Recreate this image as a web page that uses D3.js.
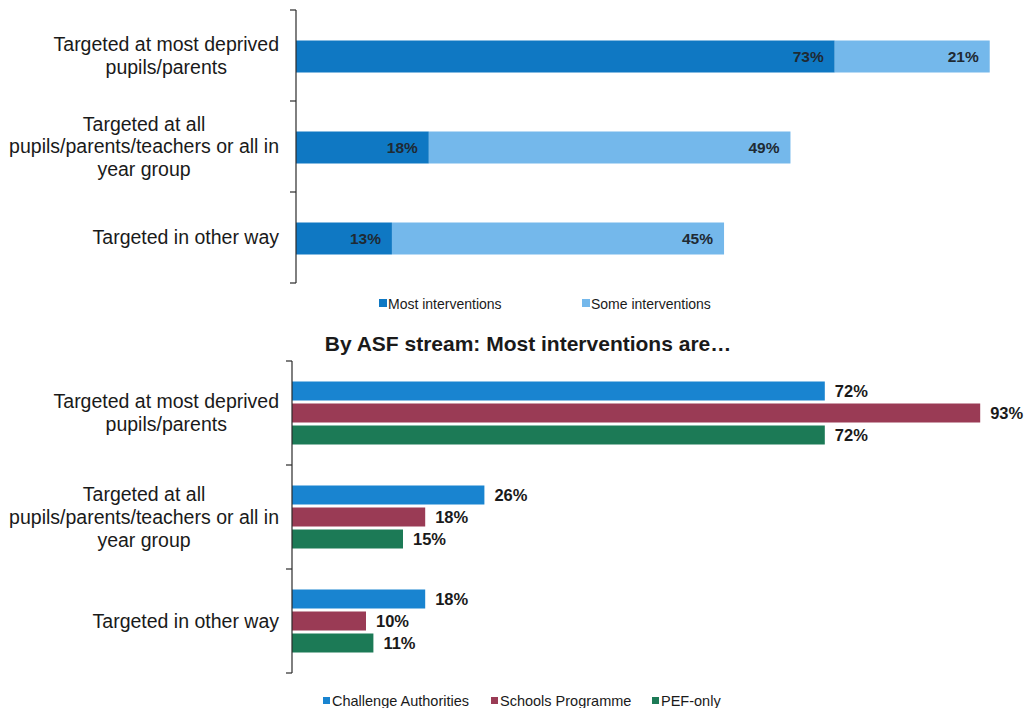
<!DOCTYPE html>
<html>
<head>
<meta charset="utf-8">
<script src="https://cdn.jsdelivr.net/npm/d3@7"></script>
<style>
  html, body { margin: 0; padding: 0; background: #ffffff; }
  svg { display: block; font-family: "Liberation Sans", Arial, sans-serif; }
</style>
</head>
<body>
<svg id="chart" width="1026" height="708"></svg>
<script>
// Category labels, split into display lines
const categories = [
  "Targeted at most deprived pupils/parents",
  "Targeted at all pupils/parents/teachers or all in year group",
  "Targeted in other way"
];
const categoryLines = [
  ["Targeted at most deprived", "pupils/parents"],
  ["Targeted at all", "pupils/parents/teachers or all in", "year group"],
  ["Targeted in other way"]
];

// Upper panel: share of interventions (stacked)
const mostInterventions = [73, 18, 13];
const someInterventions = [21, 49, 45];
const stackKeys = ["Most interventions", "Some interventions"];

// Lower panel: "most interventions are…" by ASF stream
const streams = ["Challenge Authorities", "Schools Programme", "PEF-only"];
const challengeAuthorities = [72, 26, 18];
const schoolsProgramme = [93, 18, 10];
const pefOnly = [72, 15, 11];

const lowerTitle = "By ASF stream: Most interventions are\u2026";

const stackColors = ["#0f78c3", "#74b8eb"];
const streamColors = ["#1984d0", "#9a3b55", "#1c7a56"];

const svg = d3.select("#chart");

// Multi-line category label: widest line right-aligned at xRight, others centred on it
function drawCategoryLabels(g, yScale, xRight, fontSize, lineH) {
  categories.forEach((c, i) => {
    const lines = categoryLines[i];
    const t = g.append("text")
      .attr("font-size", fontSize)
      .attr("fill", "#1a1a1a")
      .attr("text-anchor", "middle");
    const cy = yScale(c) + yScale.bandwidth() / 2;
    const y0 = cy - (lines.length - 1) * lineH / 2 + fontSize * 0.35;
    lines.forEach((ln, j) => {
      t.append("tspan").attr("y", y0 + j * lineH).text(ln);
    });
    let w = 0;
    t.selectAll("tspan").each(function() { w = Math.max(w, this.getComputedTextLength()); });
    t.selectAll("tspan").attr("x", xRight - w / 2);
  });
}

// Vertical category axis with ticks on band boundaries
function drawBandAxis(g, yScale, x) {
  const bounds = yScale.domain().map(d => yScale(d)).concat([yScale.range()[1]]);
  g.append("line")
    .attr("x1", x).attr("x2", x)
    .attr("y1", yScale.range()[0]).attr("y2", yScale.range()[1])
    .attr("stroke", "#2a2a2a").attr("stroke-width", 1.2);
  g.selectAll("line.tick").data(bounds).join("line")
    .attr("class", "tick")
    .attr("x1", x - 6).attr("x2", x)
    .attr("y1", d => d).attr("y2", d => d)
    .attr("stroke", "#2a2a2a").attr("stroke-width", 1.2);
}

// ---------- Upper panel ----------
{
  const x0 = 296;
  const x = d3.scaleLinear().domain([0, 100]).range([x0, x0 + 738]);
  const y = d3.scaleBand().domain(categories).range([10, 283]).padding(0);
  const g = svg.append("g");

  const rows = categories.map((c, i) => ({
    cat: c,
    "Most interventions": mostInterventions[i],
    "Some interventions": someInterventions[i]
  }));
  const series = d3.stack().keys(stackKeys)(rows);
  const barH = 32;

  series.forEach((s, si) => {
    const sg = g.append("g");
    sg.selectAll("rect").data(s).join("rect")
      .attr("x", d => x(d[0]))
      .attr("width", d => x(d[1]) - x(d[0]))
      .attr("y", d => y(d.data.cat) + y.bandwidth() / 2 - barH / 2 + 1)
      .attr("height", barH)
      .attr("fill", stackColors[si]);
    sg.selectAll("text").data(s).join("text")
      .attr("x", d => x(d[1]) - 11)
      .attr("y", d => y(d.data.cat) + y.bandwidth() / 2 + 6.5)
      .attr("text-anchor", "end")
      .attr("font-size", 15.5)
      .attr("font-weight", "bold")
      .attr("fill", "#1f2a33")
      .text(d => (d[1] - d[0]) + "%");
  });

  drawBandAxis(g, y, x0);
  drawCategoryLabels(g, y, 279, 19.5, 22.5);

  // legend
  const lg = g.append("g").attr("font-size", 14).attr("fill", "#1a1a1a");
  const legX = [379, 582];
  stackKeys.forEach((k, i) => {
    lg.append("rect").attr("x", legX[i]).attr("y", 299).attr("width", 8).attr("height", 8)
      .attr("fill", stackColors[i]);
    lg.append("text").attr("x", legX[i] + 9).attr("y", 308.5).text(k);
  });
}

// ---------- Lower panel ----------
{
  const x0 = 292;
  const x = d3.scaleLinear().domain([0, 100]).range([x0, x0 + 740]);
  const y = d3.scaleBand().domain(categories).range([361, 673]).padding(0);
  const g = svg.append("g");

  g.append("text")
    .attr("x", 528).attr("y", 351)
    .attr("text-anchor", "middle")
    .attr("font-size", 21)
    .attr("font-weight", "bold")
    .attr("fill", "#1a1a1a")
    .text(lowerTitle);

  const values = [challengeAuthorities, schoolsProgramme, pefOnly];
  const barH = 19, gap = 3;
  const groupH = streams.length * barH + (streams.length - 1) * gap;
  const inner = d3.scaleBand().domain(streams).range([0, groupH]).paddingInner(gap / (barH + gap));

  streams.forEach((s, si) => {
    const data = categories.map((c, i) => ({ cat: c, v: values[si][i] }));
    const sg = g.append("g");
    const yb = d => y(d.cat) + y.bandwidth() / 2 - groupH / 2 + inner(s);
    sg.selectAll("rect").data(data).join("rect")
      .attr("x", x(0))
      .attr("width", d => x(d.v) - x(0))
      .attr("y", yb)
      .attr("height", inner.bandwidth())
      .attr("fill", streamColors[si]);
    sg.selectAll("text").data(data).join("text")
      .attr("x", d => x(d.v) + 10)
      .attr("y", d => yb(d) + inner.bandwidth() / 2 + 6)
      .attr("font-size", 16.5)
      .attr("font-weight", "bold")
      .attr("fill", "#1a1a1a")
      .text(d => d.v + "%");
  });

  drawBandAxis(g, y, x0);
  drawCategoryLabels(g, y, 279, 19.5, 23);

  // legend
  const lg = g.append("g").attr("font-size", 14.5).attr("fill", "#1a1a1a");
  const legX = [323, 491, 652];
  streams.forEach((k, i) => {
    lg.append("rect").attr("x", legX[i]).attr("y", 697).attr("width", 7).attr("height", 7)
      .attr("fill", streamColors[i]);
    lg.append("text").attr("x", legX[i] + 9).attr("y", 706).text(k);
  });
}
</script>
</body>
</html>
